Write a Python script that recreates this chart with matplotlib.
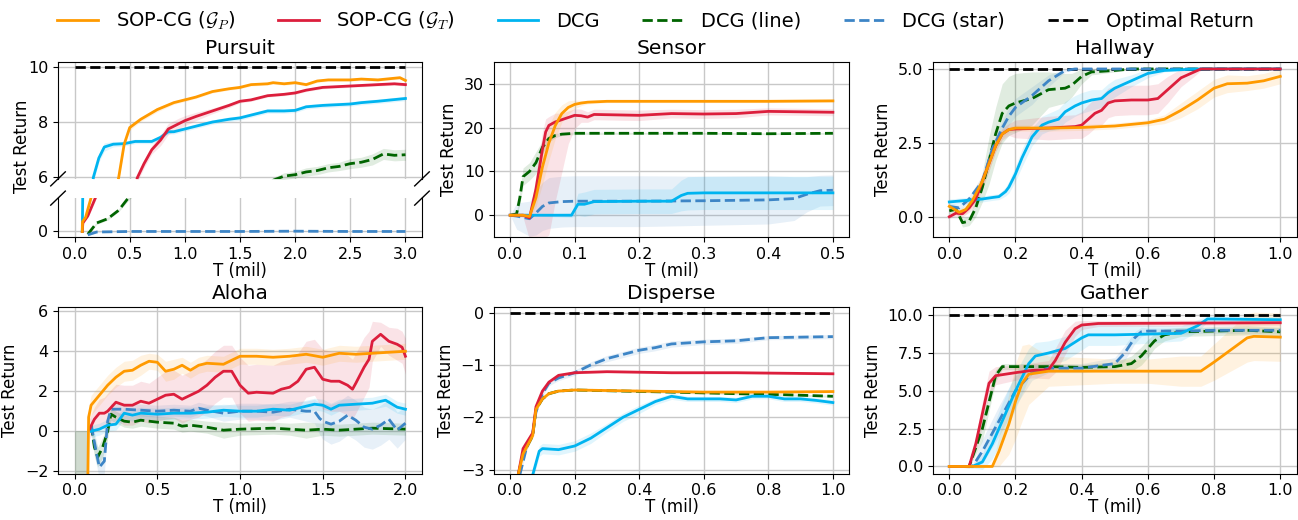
import numpy as np
import matplotlib
matplotlib.use("Agg")
import matplotlib.pyplot as plt
from matplotlib.lines import Line2D

plt.rcParams['mathtext.fontset'] = 'cm'

# colours / styles per method
C_GP = '#FF9A00'
C_GT = '#DC1E3C'
C_DCG = '#00B4F0'
C_LINE = '#006400'
C_STAR = '#3D85C6'

# each series: list of (T in mil, mean return, std) or (T, mean, std below, std above)
# ---- Pursuit ----
pur_gp = [(0.07, 0.0, 0.0), (0.072, 0.35, 0.05), (0.1, 0.5, 0.05), (0.15, 1.2, 0.1), (0.40, 6.0, 0.1),
          (0.45, 7.2, 0.1), (0.5, 7.8, 0.1), (0.6, 8.1, 0.08), (0.75, 8.45, 0.08), (0.9, 8.7, 0.06),
          (1.0, 8.8, 0.06), (1.1, 8.9, 0.05), (1.25, 9.1, 0.05), (1.4, 9.2, 0.05), (1.5, 9.25, 0.05),
          (1.6, 9.35, 0.05), (1.75, 9.38, 0.05), (1.8, 9.42, 0.05), (1.9, 9.38, 0.05), (2.0, 9.42, 0.05),
          (2.1, 9.35, 0.05), (2.2, 9.48, 0.05), (2.3, 9.52, 0.05), (2.5, 9.52, 0.05), (2.6, 9.55, 0.05),
          (2.75, 9.52, 0.05), (2.9, 9.58, 0.05), (2.95, 9.6, 0.05), (3.0, 9.5, 0.05)]
pur_gt = [(0.07, 0.0, 0.0), (0.075, 0.3, 0.05), (0.12, 0.55, 0.05), (0.19, 1.2, 0.1), (0.57, 6.0, 0.15),
          (0.63, 6.5, 0.15), (0.7, 7.0, 0.15), (0.78, 7.35, 0.2), (0.85, 7.75, 0.2), (0.95, 7.95, 0.2),
          (1.0, 8.05, 0.18), (1.1, 8.2, 0.15), (1.25, 8.4, 0.1), (1.4, 8.6, 0.08), (1.5, 8.75, 0.06),
          (1.6, 8.8, 0.05), (1.75, 8.95, 0.05), (1.9, 9.0, 0.05), (2.0, 9.05, 0.05), (2.1, 9.15, 0.05),
          (2.25, 9.25, 0.05), (2.4, 9.28, 0.05), (2.5, 9.3, 0.05), (2.75, 9.35, 0.05), (2.9, 9.38, 0.05),
          (3.0, 9.35, 0.05)]
pur_dcg = [(0.07, 0.0, 0.0), (0.075, 1.5, 0.1), (0.17, 6.0, 0.15), (0.22, 6.7, 0.15), (0.27, 7.1, 0.15),
           (0.35, 7.2, 0.1), (0.45, 7.22, 0.08), (0.55, 7.3, 0.08), (0.7, 7.3, 0.08), (0.78, 7.45, 0.08),
           (0.85, 7.65, 0.08), (0.9, 7.65, 0.08), (1.0, 7.75, 0.08), (1.1, 7.85, 0.08), (1.25, 8.0, 0.08),
           (1.4, 8.1, 0.08), (1.5, 8.15, 0.08), (1.6, 8.25, 0.08), (1.75, 8.4, 0.08), (1.9, 8.4, 0.08),
           (2.0, 8.42, 0.08), (2.1, 8.55, 0.08), (2.25, 8.6, 0.08), (2.5, 8.65, 0.08), (2.6, 8.7, 0.08),
           (2.75, 8.75, 0.08), (3.0, 8.85, 0.08)]
pur_line = [(0.12, -0.1, 0.02), (0.15, 0.05, 0.03), (0.2, 0.3, 0.05), (0.3, 0.45, 0.05), (0.4, 0.75, 0.05),
            (0.49, 1.2, 0.1), (1.8, 5.9, 0.1), (1.9, 6.05, 0.12), (2.0, 6.1, 0.12), (2.1, 6.2, 0.15),
            (2.2, 6.25, 0.15), (2.3, 6.35, 0.15), (2.4, 6.4, 0.15), (2.5, 6.5, 0.18), (2.6, 6.55, 0.18),
            (2.7, 6.65, 0.2), (2.8, 6.85, 0.2), (2.9, 6.8, 0.2), (3.0, 6.82, 0.2)]
pur_star = [(0.12, -0.12, 0.02), (0.2, -0.02, 0.02), (0.5, 0.0, 0.01), (1.0, 0.0, 0.01), (1.5, 0.0, 0.01),
            (2.0, 0.01, 0.01), (2.5, 0.0, 0.01), (3.0, 0.0, 0.01)]
pur_opt = 10.0

# ---- Sensor ----
sen_gp = [(0.0, 0.0, 0.0), (0.02, 0.0, 0.0), (0.03, -0.3, 0.3), (0.04, 4.0, 2.0), (0.05, 11.0, 4.0),
          (0.06, 16.5, 4.0), (0.07, 20.5, 3.0), (0.08, 23.2, 2.0), (0.09, 24.6, 1.5), (0.1, 25.3, 1.0),
          (0.11, 25.6, 0.6), (0.12, 25.8, 0.4), (0.15, 26.0, 0.3), (0.2, 26.0, 0.3), (0.3, 26.0, 0.3),
          (0.4, 26.0, 0.3), (0.5, 26.1, 0.3)]
sen_gt = [(0.0, 0.0, 0.0, 0.0), (0.02, 0.0, 0.5, 0.5), (0.03, -0.6, 5.0, 1.0), (0.04, 6.0, 12.0, 3.0),
          (0.05, 15.0, 20.0, 4.0), (0.055, 19.0, 24.0, 3.0), (0.06, 20.5, 25.0, 2.0), (0.07, 21.3, 18.0, 2.0),
          (0.08, 21.8, 12.0, 1.5), (0.09, 22.3, 6.0, 1.5), (0.1, 22.8, 3.0, 1.5), (0.11, 22.7, 1.5, 1.5),
          (0.12, 22.4, 1.2, 1.2), (0.13, 23.0, 1.2, 1.2), (0.2, 22.8, 1.2, 1.2), (0.25, 23.2, 1.0, 1.0),
          (0.3, 23.1, 1.0, 1.0), (0.35, 23.2, 1.0, 1.0), (0.4, 23.7, 0.8, 0.8), (0.45, 23.6, 0.8, 0.8),
          (0.5, 23.5, 0.8, 0.8)]
sen_line = [(0.0, 0.0, 0.0), (0.01, 0.3, 0.5), (0.015, 4.0, 1.5), (0.02, 8.8, 2.0), (0.03, 10.0, 2.0),
            (0.04, 12.0, 2.5), (0.05, 15.5, 1.5), (0.06, 17.5, 0.8), (0.07, 18.2, 0.5), (0.08, 18.5, 0.3),
            (0.1, 18.7, 0.3), (0.2, 18.7, 0.2), (0.3, 18.7, 0.2), (0.4, 18.6, 0.2), (0.5, 18.7, 0.2)]
sen_dcg = [(0.0, 0.0, 0.0), (0.095, 0.0, 0.5), (0.105, 2.5, 2.5), (0.115, 2.5, 2.8), (0.12, 2.7, 2.8),
           (0.13, 3.1, 2.8), (0.2, 3.2, 2.8), (0.25, 3.2, 2.8), (0.265, 4.5, 3.5), (0.275, 5.0, 3.8),
           (0.3, 5.1, 3.8), (0.4, 5.1, 3.8), (0.5, 5.1, 3.8)]
sen_star = [(0.0, 0.0, 0.0), (0.01, -0.2, 3.0), (0.03, -0.8, 4.0), (0.04, 0.5, 5.0), (0.05, 2.0, 5.5),
            (0.06, 2.8, 5.8), (0.08, 3.1, 5.8), (0.1, 3.2, 5.8), (0.2, 3.2, 5.8), (0.3, 3.3, 5.6),
            (0.4, 3.5, 5.5), (0.44, 3.8, 5.0), (0.46, 4.8, 4.0), (0.48, 5.6, 3.5), (0.5, 5.7, 3.5)]

# ---- Hallway ----
hal_gp = [(0.0, 0.35, 0.1), (0.03, 0.15, 0.1), (0.05, 0.25, 0.15), (0.07, 0.55, 0.2), (0.1, 1.2, 0.25),
          (0.12, 1.8, 0.25), (0.14, 2.4, 0.2), (0.16, 2.8, 0.15), (0.18, 2.95, 0.1), (0.2, 3.0, 0.1),
          (0.3, 3.0, 0.1), (0.4, 3.02, 0.1), (0.5, 3.07, 0.1), (0.6, 3.18, 0.1), (0.65, 3.3, 0.15),
          (0.7, 3.6, 0.25), (0.75, 3.95, 0.3), (0.8, 4.35, 0.3), (0.84, 4.5, 0.3), (0.9, 4.52, 0.25),
          (0.95, 4.6, 0.25), (1.0, 4.75, 0.25)]
hal_gt = [(0.0, 0.0, 0.05), (0.02, 0.12, 0.1), (0.04, 0.1, 0.1), (0.06, 0.3, 0.15), (0.08, 0.6, 0.2),
          (0.1, 1.2, 0.25), (0.12, 1.8, 0.25), (0.14, 2.4, 0.2), (0.16, 2.8, 0.2), (0.18, 2.95, 0.2),
          (0.2, 2.97, 0.3), (0.3, 3.0, 0.4), (0.38, 3.05, 0.4), (0.4, 3.1, 0.45), (0.42, 3.3, 0.5),
          (0.44, 3.5, 0.5), (0.46, 3.6, 0.5), (0.48, 3.85, 0.5), (0.5, 3.92, 0.5), (0.55, 3.95, 0.5),
          (0.6, 3.95, 0.5), (0.63, 4.0, 0.5), (0.66, 4.3, 0.45), (0.7, 4.7, 0.3), (0.74, 4.9, 0.15),
          (0.76, 5.0, 0.05), (0.85, 5.0, 0.02), (1.0, 5.0, 0.0)]
hal_dcg = [(0.0, 0.5, 0.1), (0.05, 0.55, 0.1), (0.1, 0.6, 0.1), (0.13, 0.65, 0.1), (0.15, 0.68, 0.1),
           (0.17, 0.85, 0.15), (0.18, 1.0, 0.2), (0.2, 1.45, 0.25), (0.22, 2.0, 0.3), (0.25, 2.7, 0.3),
           (0.28, 3.1, 0.3), (0.3, 3.2, 0.3), (0.33, 3.3, 0.35), (0.35, 3.55, 0.35), (0.38, 3.75, 0.35),
           (0.4, 3.85, 0.35), (0.43, 3.95, 0.35), (0.46, 4.0, 0.3), (0.48, 4.2, 0.3), (0.5, 4.35, 0.3),
           (0.55, 4.6, 0.2), (0.6, 4.85, 0.15), (0.65, 4.95, 0.05), (0.75, 5.0, 0.02), (1.0, 5.0, 0.0)]
hal_line = [(0.0, 0.2, 0.1), (0.02, 0.25, 0.1), (0.04, -0.2, 0.15), (0.06, -0.15, 0.15), (0.08, 0.3, 0.3),
            (0.1, 1.0, 0.5), (0.12, 1.9, 0.8), (0.14, 2.8, 0.9), (0.16, 3.5, 1.0), (0.18, 3.75, 1.0),
            (0.2, 3.85, 1.0), (0.25, 4.0, 0.9), (0.3, 4.3, 0.6), (0.35, 4.35, 0.5), (0.37, 4.45, 0.4),
            (0.4, 4.75, 0.25), (0.43, 4.9, 0.1), (0.5, 4.95, 0.05), (0.55, 5.0, 0.02), (1.0, 5.0, 0.0)]
hal_star = [(0.0, 0.35, 0.1), (0.03, 0.3, 0.1), (0.06, 0.6, 0.1), (0.1, 1.2, 0.2), (0.13, 2.3, 0.2),
            (0.16, 3.0, 0.25), (0.18, 3.4, 0.3), (0.2, 3.7, 0.3), (0.25, 4.1, 0.3), (0.3, 4.6, 0.2),
            (0.35, 4.95, 0.05), (0.38, 5.0, 0.02), (1.0, 5.0, 0.0)]
hal_opt = 5.0

# ---- Aloha ----
alo_gp = [(0.08, -2.5, 0.3), (0.085, 0.7, 0.5), (0.1, 1.3, 0.5), (0.15, 1.8, 0.5), (0.2, 2.3, 0.5),
          (0.25, 2.7, 0.5), (0.3, 3.0, 0.5), (0.35, 3.05, 0.5), (0.4, 3.3, 0.5), (0.45, 3.5, 0.4),
          (0.5, 3.45, 0.4), (0.55, 3.0, 0.5), (0.6, 3.1, 0.5), (0.65, 3.3, 0.4), (0.7, 3.05, 0.4),
          (0.75, 3.3, 0.4), (0.8, 3.4, 0.4), (0.9, 3.35, 0.4), (1.0, 3.75, 0.4), (1.1, 3.75, 0.4),
          (1.2, 3.7, 0.4), (1.3, 3.75, 0.4), (1.4, 3.85, 0.4), (1.5, 3.7, 0.4), (1.6, 3.9, 0.4),
          (1.7, 3.85, 0.4), (1.8, 3.9, 0.4), (1.9, 3.95, 0.4), (2.0, 4.0, 0.4)]
alo_gt = [(0.09, 0.1, 0.5), (0.12, 0.6, 0.6), (0.15, 0.9, 0.7), (0.18, 0.9, 0.8), (0.2, 1.0, 0.9),
          (0.25, 1.45, 0.9), (0.3, 1.3, 1.0), (0.35, 1.3, 1.0), (0.4, 1.5, 1.0), (0.45, 1.4, 1.0),
          (0.5, 1.6, 1.1), (0.55, 1.8, 1.2), (0.6, 1.85, 1.2), (0.65, 1.6, 1.2), (0.7, 1.8, 1.2),
          (0.75, 2.0, 1.3), (0.8, 2.3, 1.3), (0.85, 2.7, 1.3), (0.9, 3.0, 1.3), (0.95, 3.0, 1.3),
          (1.0, 2.3, 1.4), (1.05, 1.9, 1.4), (1.1, 1.95, 1.4), (1.2, 1.9, 1.4), (1.25, 2.1, 1.4),
          (1.3, 2.2, 1.4), (1.35, 2.5, 1.4), (1.4, 3.1, 1.4), (1.45, 3.2, 1.4), (1.5, 2.6, 1.5),
          (1.55, 2.5, 1.5), (1.6, 2.5, 1.5), (1.65, 2.3, 1.5), (1.68, 2.1, 1.5), (1.7, 2.4, 1.5),
          (1.75, 3.2, 1.5), (1.78, 3.6, 1.4), (1.8, 4.5, 1.0), (1.85, 4.85, 0.6), (1.9, 4.5, 0.7),
          (1.95, 4.35, 0.8), (1.98, 4.2, 0.8), (2.0, 3.75, 0.9)]
alo_dcg = [(0.1, 0.0, 0.3), (0.15, 0.1, 0.3), (0.2, 0.3, 0.3), (0.25, 0.35, 0.3), (0.3, 0.9, 0.3),
           (0.35, 0.8, 0.3), (0.4, 0.9, 0.3), (0.5, 0.85, 0.3), (0.6, 0.9, 0.3), (0.7, 0.9, 0.3),
           (0.8, 0.95, 0.3), (0.9, 1.05, 0.3), (1.0, 1.0, 0.3), (1.1, 1.0, 0.3), (1.2, 1.1, 0.3),
           (1.3, 1.05, 0.3), (1.4, 1.25, 0.3), (1.45, 1.35, 0.3), (1.5, 1.3, 0.3), (1.55, 1.1, 0.3),
           (1.6, 1.3, 0.3), (1.7, 1.35, 0.3), (1.8, 1.4, 0.3), (1.88, 1.55, 0.3), (1.95, 1.2, 0.3),
           (2.0, 1.1, 0.3)]
alo_star = [(0.1, 0.3, 0.4), (0.13, -1.0, 0.6), (0.15, -1.8, 0.6), (0.18, -1.5, 0.6), (0.2, 0.5, 0.4),
            (0.22, 1.1, 0.3), (0.3, 1.1, 0.3), (0.4, 1.05, 0.3), (0.5, 1.0, 0.3), (0.6, 1.05, 0.3),
            (0.7, 1.0, 0.3), (0.75, 1.15, 0.3), (0.8, 1.05, 0.3), (0.9, 0.9, 0.4), (1.0, 1.0, 0.4),
            (1.1, 1.0, 0.4), (1.2, 0.95, 0.4), (1.3, 1.1, 0.4), (1.4, 1.0, 0.5), (1.45, 1.0, 0.6),
            (1.48, 0.65, 0.8), (1.5, 0.5, 0.9), (1.55, 0.35, 1.0), (1.6, 0.5, 1.0), (1.65, 0.8, 1.0),
            (1.7, 0.55, 1.0), (1.75, 0.2, 1.0), (1.8, 0.1, 1.0), (1.85, 0.3, 1.0), (1.9, 0.6, 1.0),
            (1.95, 0.05, 0.9), (2.0, 0.4, 0.8)]
alo_line = [(0.1, 0.3, 0.3), (0.12, -0.8, 0.5), (0.14, -1.3, 0.5), (0.17, -0.8, 0.5), (0.2, 0.0, 0.4),
            (0.22, 0.85, 0.3), (0.25, 0.7, 0.3), (0.3, 0.5, 0.3), (0.35, 0.45, 0.3), (0.4, 0.55, 0.3),
            (0.5, 0.45, 0.3), (0.6, 0.4, 0.3), (0.65, 0.25, 0.3), (0.7, 0.3, 0.3), (0.8, 0.2, 0.3),
            (0.9, 0.05, 0.4), (1.0, 0.1, 0.3), (1.2, 0.15, 0.3), (1.3, 0.1, 0.3), (1.4, 0.05, 0.4),
            (1.5, 0.1, 0.3), (1.6, 0.05, 0.3), (1.7, 0.1, 0.3), (1.8, 0.15, 0.3), (2.0, 0.1, 0.3)]
alo_start_x = [0.0, 0.08]
alo_start_band = (-3.0, 0.0)

# ---- Disperse ----
dis_star = [(0.03, -3.1, 0.05), (0.05, -2.6, 0.05), (0.07, -2.3, 0.05), (0.08, -1.9, 0.05), (0.1, -1.55, 0.05),
            (0.12, -1.35, 0.05), (0.15, -1.25, 0.05), (0.2, -1.15, 0.05), (0.25, -1.0, 0.06), (0.3, -0.88, 0.06),
            (0.35, -0.8, 0.06), (0.4, -0.72, 0.06), (0.45, -0.67, 0.06), (0.5, -0.6, 0.06), (0.6, -0.56, 0.05),
            (0.7, -0.54, 0.05), (0.8, -0.48, 0.04), (0.9, -0.47, 0.04), (1.0, -0.46, 0.04)]
dis_gt = [(0.025, -3.1, 0.08), (0.04, -2.6, 0.08), (0.07, -2.3, 0.06), (0.08, -1.8, 0.05), (0.1, -1.5, 0.04),
          (0.12, -1.33, 0.03), (0.15, -1.2, 0.03), (0.2, -1.15, 0.02), (0.3, -1.13, 0.02), (0.5, -1.15, 0.02),
          (0.7, -1.15, 0.02), (1.0, -1.17, 0.02)]
dis_line = [(0.025, -3.1, 0.05), (0.04, -2.7, 0.05), (0.07, -2.35, 0.04), (0.08, -1.85, 0.03), (0.1, -1.65, 0.02),
            (0.12, -1.55, 0.02), (0.15, -1.5, 0.02), (0.2, -1.48, 0.02), (0.5, -1.52, 0.02), (0.7, -1.55, 0.02),
            (0.85, -1.57, 0.02), (1.0, -1.6, 0.02)]
dis_gp = [(0.025, -3.1, 0.05), (0.04, -2.7, 0.05), (0.07, -2.35, 0.04), (0.08, -1.85, 0.03), (0.1, -1.65, 0.02),
          (0.12, -1.55, 0.02), (0.15, -1.5, 0.02), (0.2, -1.48, 0.02), (0.4, -1.5, 0.02), (0.6, -1.52, 0.02),
          (0.8, -1.52, 0.02), (1.0, -1.51, 0.02)]
dis_dcg = [(0.07, -3.1, 0.1), (0.09, -2.65, 0.1), (0.1, -2.6, 0.1), (0.15, -2.62, 0.1), (0.2, -2.55, 0.1),
           (0.25, -2.4, 0.1), (0.3, -2.2, 0.08), (0.35, -2.0, 0.08), (0.4, -1.85, 0.08), (0.45, -1.7, 0.06),
           (0.5, -1.6, 0.06), (0.55, -1.65, 0.05), (0.6, -1.65, 0.05), (0.65, -1.65, 0.05), (0.7, -1.67, 0.05),
           (0.75, -1.6, 0.05), (0.8, -1.6, 0.05), (0.85, -1.65, 0.05), (0.9, -1.65, 0.05), (0.95, -1.68, 0.05),
           (1.0, -1.72, 0.05)]
dis_opt = 0.0

# ---- Gather ----
gat_gt = [(0.0, 0.0, 0.0), (0.06, 0.0, 0.0), (0.08, 1.5, 0.5), (0.1, 3.5, 0.8), (0.12, 5.5, 0.8),
          (0.14, 6.0, 0.6), (0.2, 6.2, 0.5), (0.25, 6.35, 0.5), (0.3, 6.4, 0.6), (0.32, 7.0, 0.8),
          (0.35, 8.2, 0.8), (0.38, 9.1, 0.5), (0.4, 9.35, 0.3), (0.45, 9.45, 0.2), (1.0, 9.5, 0.2)]
gat_dcg = [(0.0, 0.0, 0.0), (0.07, 0.0, 0.1), (0.1, 0.3, 0.5), (0.13, 1.5, 1.0), (0.16, 3.0, 1.2),
           (0.2, 5.0, 1.2), (0.24, 6.8, 1.0), (0.26, 7.3, 0.9), (0.3, 7.5, 0.8), (0.35, 7.8, 0.8),
           (0.4, 8.5, 0.8), (0.42, 8.7, 0.7), (0.5, 8.7, 0.7), (0.6, 8.75, 0.6), (0.7, 8.8, 0.5),
           (0.75, 9.3, 0.4), (0.78, 9.75, 0.2), (0.8, 9.75, 0.2), (1.0, 9.7, 0.2)]
gat_star = [(0.0, 0.0, 0.0), (0.07, 0.0, 0.1), (0.1, 1.0, 0.8), (0.15, 3.0, 1.0), (0.2, 5.0, 1.0),
            (0.25, 6.2, 0.5), (0.3, 6.5, 0.3), (0.4, 6.5, 0.3), (0.5, 6.8, 0.4), (0.53, 7.5, 0.5),
            (0.56, 8.5, 0.4), (0.58, 8.9, 0.3), (0.6, 8.95, 0.2), (0.7, 8.95, 0.2), (0.8, 9.0, 0.2),
            (1.0, 9.0, 0.2)]
gat_line = [(0.0, 0.0, 0.0), (0.06, 0.0, 0.1), (0.1, 2.5, 0.8), (0.14, 6.0, 0.4), (0.16, 6.6, 0.2),
            (0.2, 6.6, 0.2), (0.3, 6.6, 0.2), (0.4, 6.55, 0.2), (0.5, 6.6, 0.3), (0.55, 6.8, 0.5),
            (0.58, 7.3, 0.6), (0.6, 7.8, 0.6), (0.62, 8.3, 0.5), (0.65, 8.7, 0.4), (0.7, 8.9, 0.3),
            (0.8, 8.95, 0.3), (0.9, 9.0, 0.3), (1.0, 8.9, 0.3)]
gat_gp = [(0.0, 0.0, 0.0), (0.13, 0.0, 0.0), (0.15, 1.0, 1.0), (0.18, 2.8, 2.0), (0.2, 4.3, 2.5),
          (0.22, 5.5, 2.5), (0.24, 6.1, 2.0), (0.3, 6.3, 1.0), (0.5, 6.3, 0.8), (0.6, 6.3, 0.8),
          (0.7, 6.3, 1.0), (0.76, 6.3, 1.0), (0.8, 6.9, 1.2), (0.85, 7.7, 1.4), (0.9, 8.5, 1.6),
          (0.92, 8.6, 1.6), (1.0, 8.55, 1.6)]
gat_opt = 10.0


def draw(ax, series, color, ls='-'):
    x = np.array([p[0] for p in series])
    y = np.array([p[1] for p in series])
    lo = np.array([p[2] for p in series])
    hi = np.array([p[-1] for p in series])
    ax.fill_between(x, y - lo, y + hi, color=color, alpha=0.12, lw=0)
    ax.plot(x, y, color=color, ls=ls, lw=2)


def draw_all(ax, gp, gt, dcg, line, star):
    draw(ax, line, C_LINE, '--')
    draw(ax, star, C_STAR, '--')
    draw(ax, dcg, C_DCG)
    draw(ax, gt, C_GT)
    draw(ax, gp, C_GP)


def opt(ax, val, xmax):
    ax.plot([0, xmax], [val, val], color='k', ls='--', lw=2)


def style(ax, title=None, xlabel=True):
    ax.grid(True, color='#c8c8c8', lw=1)
    ax.set_axisbelow(True)
    ax.tick_params(labelsize=11.5)
    if title:
        ax.set_title(title, fontsize=14.5)
    if xlabel:
        ax.set_xlabel('T (mil)', fontsize=12, labelpad=0)


fig = plt.figure(figsize=(12.98, 5.2), dpi=100)

cols = [(0.0447, 0.2804), (0.3806, 0.2735), (0.7186, 0.2805)]
top = (0.544, 0.337)
bot = (0.089, 0.32)

# Pursuit (broken y axis)
ax_pt = fig.add_axes([cols[0][0], 0.656, cols[0][1], 0.225])
ax_pb = fig.add_axes([cols[0][0], top[0], cols[0][1], 0.075], sharex=ax_pt)
for a in (ax_pt, ax_pb):
    draw_all(a, pur_gp, pur_gt, pur_dcg, pur_line, pur_star)
    opt(a, pur_opt, 3.0)
    style(a, xlabel=False)
ax_pt.set_title('Pursuit', fontsize=14.5)
ax_pt.set_ylim(5.95, 10.17)
ax_pt.set_yticks([6, 8, 10])
ax_pb.set_ylim(-0.2, 1.18)
ax_pb.set_yticks([0])
ax_pt.spines['bottom'].set_visible(False)
ax_pb.spines['top'].set_visible(False)
ax_pt.tick_params(axis='x', bottom=False, labelbottom=False)
ax_pb.set_xticks([0.0, 0.5, 1.0, 1.5, 2.0, 2.5, 3.0])
ax_pb.set_xlabel('T (mil)', fontsize=12, labelpad=0)
ax_pt.set_ylabel('Test Return', fontsize=12)
ax_pt.yaxis.set_label_coords(-0.075, 0.28)
d = 0.02
kw = dict(color='k', clip_on=False, lw=1)
ax_pt.plot((-d, d), (-0.06, 0.06), transform=ax_pt.transAxes, **kw)
ax_pt.plot((1 - d, 1 + d), (-0.06, 0.06), transform=ax_pt.transAxes, **kw)
ax_pb.plot((-d, d), (1 - 0.18, 1 + 0.18), transform=ax_pb.transAxes, **kw)
ax_pb.plot((1 - d, 1 + d), (1 - 0.18, 1 + 0.18), transform=ax_pb.transAxes, **kw)

# Sensor
ax = fig.add_axes([cols[1][0], top[0], cols[1][1], top[1]])
draw_all(ax, sen_gp, sen_gt, sen_dcg, sen_line, sen_star)
style(ax, 'Sensor')
ax.set_ylim(-5, 35)
ax.set_yticks([0, 10, 20, 30])
ax.set_xticks([0.0, 0.1, 0.2, 0.3, 0.4, 0.5])
ax.set_ylabel('Test Return', fontsize=12)

# Hallway
ax = fig.add_axes([cols[2][0], top[0], cols[2][1], top[1]])
opt(ax, hal_opt, 1.0)
draw_all(ax, hal_gp, hal_gt, hal_dcg, hal_line, hal_star)
style(ax, 'Hallway')
ax.set_ylim(-0.69, 5.24)
ax.set_yticks([0.0, 2.5, 5.0])
ax.set_xticks([0.0, 0.2, 0.4, 0.6, 0.8, 1.0])
ax.set_ylabel('Test Return', fontsize=12)

# Aloha
ax = fig.add_axes([cols[0][0], bot[0], cols[0][1], bot[1]])
ax.fill_between(alo_start_x, alo_start_band[0], alo_start_band[1], color='#7a9a7a', alpha=0.35, lw=0)
draw_all(ax, alo_gp, alo_gt, alo_dcg, alo_line, alo_star)
style(ax, 'Aloha')
ax.set_ylim(-2.13, 6.2)
ax.set_yticks([-2, 0, 2, 4, 6])
ax.set_xticks([0.0, 0.5, 1.0, 1.5, 2.0])
ax.set_ylabel('Test Return', fontsize=12)

# Disperse
ax = fig.add_axes([cols[1][0], bot[0], cols[1][1], bot[1]])
opt(ax, dis_opt, 1.0)
draw_all(ax, dis_gp, dis_gt, dis_dcg, dis_line, dis_star)
style(ax, 'Disperse')
ax.set_ylim(-3.08, 0.1)
ax.set_yticks([-3, -2, -1, 0])
ax.set_xticks([0.0, 0.2, 0.4, 0.6, 0.8, 1.0])
ax.set_ylabel('Test Return', fontsize=12)

# Gather
ax = fig.add_axes([cols[2][0], bot[0], cols[2][1], bot[1]])
opt(ax, gat_opt, 1.0)
draw_all(ax, gat_gp, gat_gt, gat_dcg, gat_line, gat_star)
style(ax, 'Gather')
ax.set_ylim(-0.48, 10.52)
ax.set_yticks([0.0, 2.5, 5.0, 7.5, 10.0])
ax.set_xticks([0.0, 0.2, 0.4, 0.6, 0.8, 1.0])
ax.set_ylabel('Test Return', fontsize=12)

handles = [
    Line2D([], [], color=C_GP, lw=2, label=r'SOP-CG ($\mathcal{G}_P$)'),
    Line2D([], [], color=C_GT, lw=2, label=r'SOP-CG ($\mathcal{G}_T$)'),
    Line2D([], [], color=C_DCG, lw=2, label='DCG'),
    Line2D([], [], color=C_LINE, lw=2, ls='--', label='DCG (line)'),
    Line2D([], [], color=C_STAR, lw=2, ls='--', label='DCG (star)'),
    Line2D([], [], color='k', lw=2, ls='--', label='Optimal Return'),
]
fig.legend(handles=handles, loc='upper center', bbox_to_anchor=(0.505, 1.015), ncol=6,
           frameon=False, fontsize=14, columnspacing=2.2, handlelength=2.1, handletextpad=0.9)

fig.savefig('out.png', dpi=100)
